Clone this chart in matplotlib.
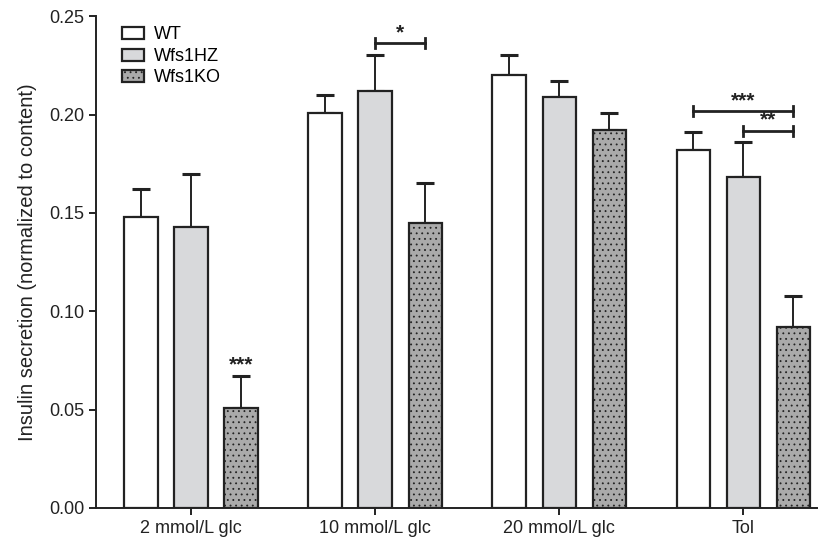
import matplotlib.pyplot as plt
import numpy as np

plt.rcParams['font.family'] = ['Liberation Sans', 'DejaVu Sans']
plt.rcParams['hatch.linewidth'] = 0.6
plt.rcParams['hatch.color'] = '#333333'

conditions = ["2 mmol/L glc", "10 mmol/L glc", "20 mmol/L glc", "Tol"]
genotypes = ["WT", "Wfs1HZ", "Wfs1KO"]
wt_mean = [0.148, 0.201, 0.220, 0.182]
wt_top = [0.162, 0.210, 0.230, 0.191]
hz_mean = [0.143, 0.212, 0.209, 0.168]
hz_top = [0.170, 0.230, 0.217, 0.186]
ko_mean = [0.051, 0.145, 0.192, 0.092]
ko_top = [0.067, 0.165, 0.201, 0.108]

means = [wt_mean, hz_mean, ko_mean]
tops = [wt_top, hz_top, ko_top]
colors = ['white', '#d8d9db', '#aaaaaa']
hatches = [None, None, '...']

fig = plt.figure(figsize=(8.24, 5.38), dpi=100)
ax = fig.add_axes([0.1165, 0.0558, 0.875, 0.9142])

x = np.arange(len(conditions))
width = 0.182
offset = 0.272
for i, g in enumerate(genotypes):
    pos = x + (i - 1) * offset
    m = np.array(means[i])
    err = np.array(tops[i]) - m
    ax.bar(pos, m, width, color=colors[i], edgecolor='#222222', linewidth=1.6,
           hatch=hatches[i], label=g, zorder=2)
    ax.errorbar(pos, m, yerr=[np.zeros_like(err), err], fmt='none',
                ecolor='#222222', elinewidth=1.4, capsize=6.5, capthick=2.2, zorder=1)


def bracket(x1, x2, y, text):
    ax.plot([x1, x2], [y, y], color='#222222', lw=2.0)
    for xx in (x1, x2):
        ax.plot([xx, xx], [y - 0.0025, y + 0.0025], color='#222222', lw=2.0)
    ax.text((x1 + x2) / 2, y + 0.0005, text, ha='center', va='bottom',
            fontsize=15, fontweight='bold', color='#222222')


bracket(x[1], x[1] + offset, 0.2363, "*")
bracket(x[3] - offset, x[3] + offset, 0.2017, "***")
bracket(x[3], x[3] + offset, 0.1917, "**")
ax.text(x[0] + offset, ko_top[0] + 0.001, "***", ha='center', va='bottom',
        fontsize=15, fontweight='bold', color='#222222')

ax.set_xlim(-0.517, 3.4)
ax.set_ylim(0, 0.25)
ax.set_yticks([0, 0.05, 0.10, 0.15, 0.20, 0.25])
ax.set_yticklabels(["0.00", "0.05", "0.10", "0.15", "0.20", "0.25"])
ax.set_xticks(x)
ax.set_xticklabels(conditions)
ax.tick_params(axis='both', labelsize=13, width=1.4, length=5, color='#222222',
               labelcolor='#222222')
ax.set_ylabel("Insulin secretion (normalized to content)", fontsize=14.5, color='#222222')
ax.yaxis.set_label_coords(-0.082, 0.5)
for side in ('top', 'right'):
    ax.spines[side].set_visible(False)
for side in ('left', 'bottom'):
    ax.spines[side].set_linewidth(1.4)
    ax.spines[side].set_color('#222222')

ax.legend(loc='upper left', bbox_to_anchor=(0.036, 0.979), frameon=False, fontsize=13,
          handlelength=1.2, handleheight=0.65, handletextpad=0.55, labelspacing=0.25,
          borderaxespad=0, borderpad=0)

fig.savefig("out.png", dpi=100)
